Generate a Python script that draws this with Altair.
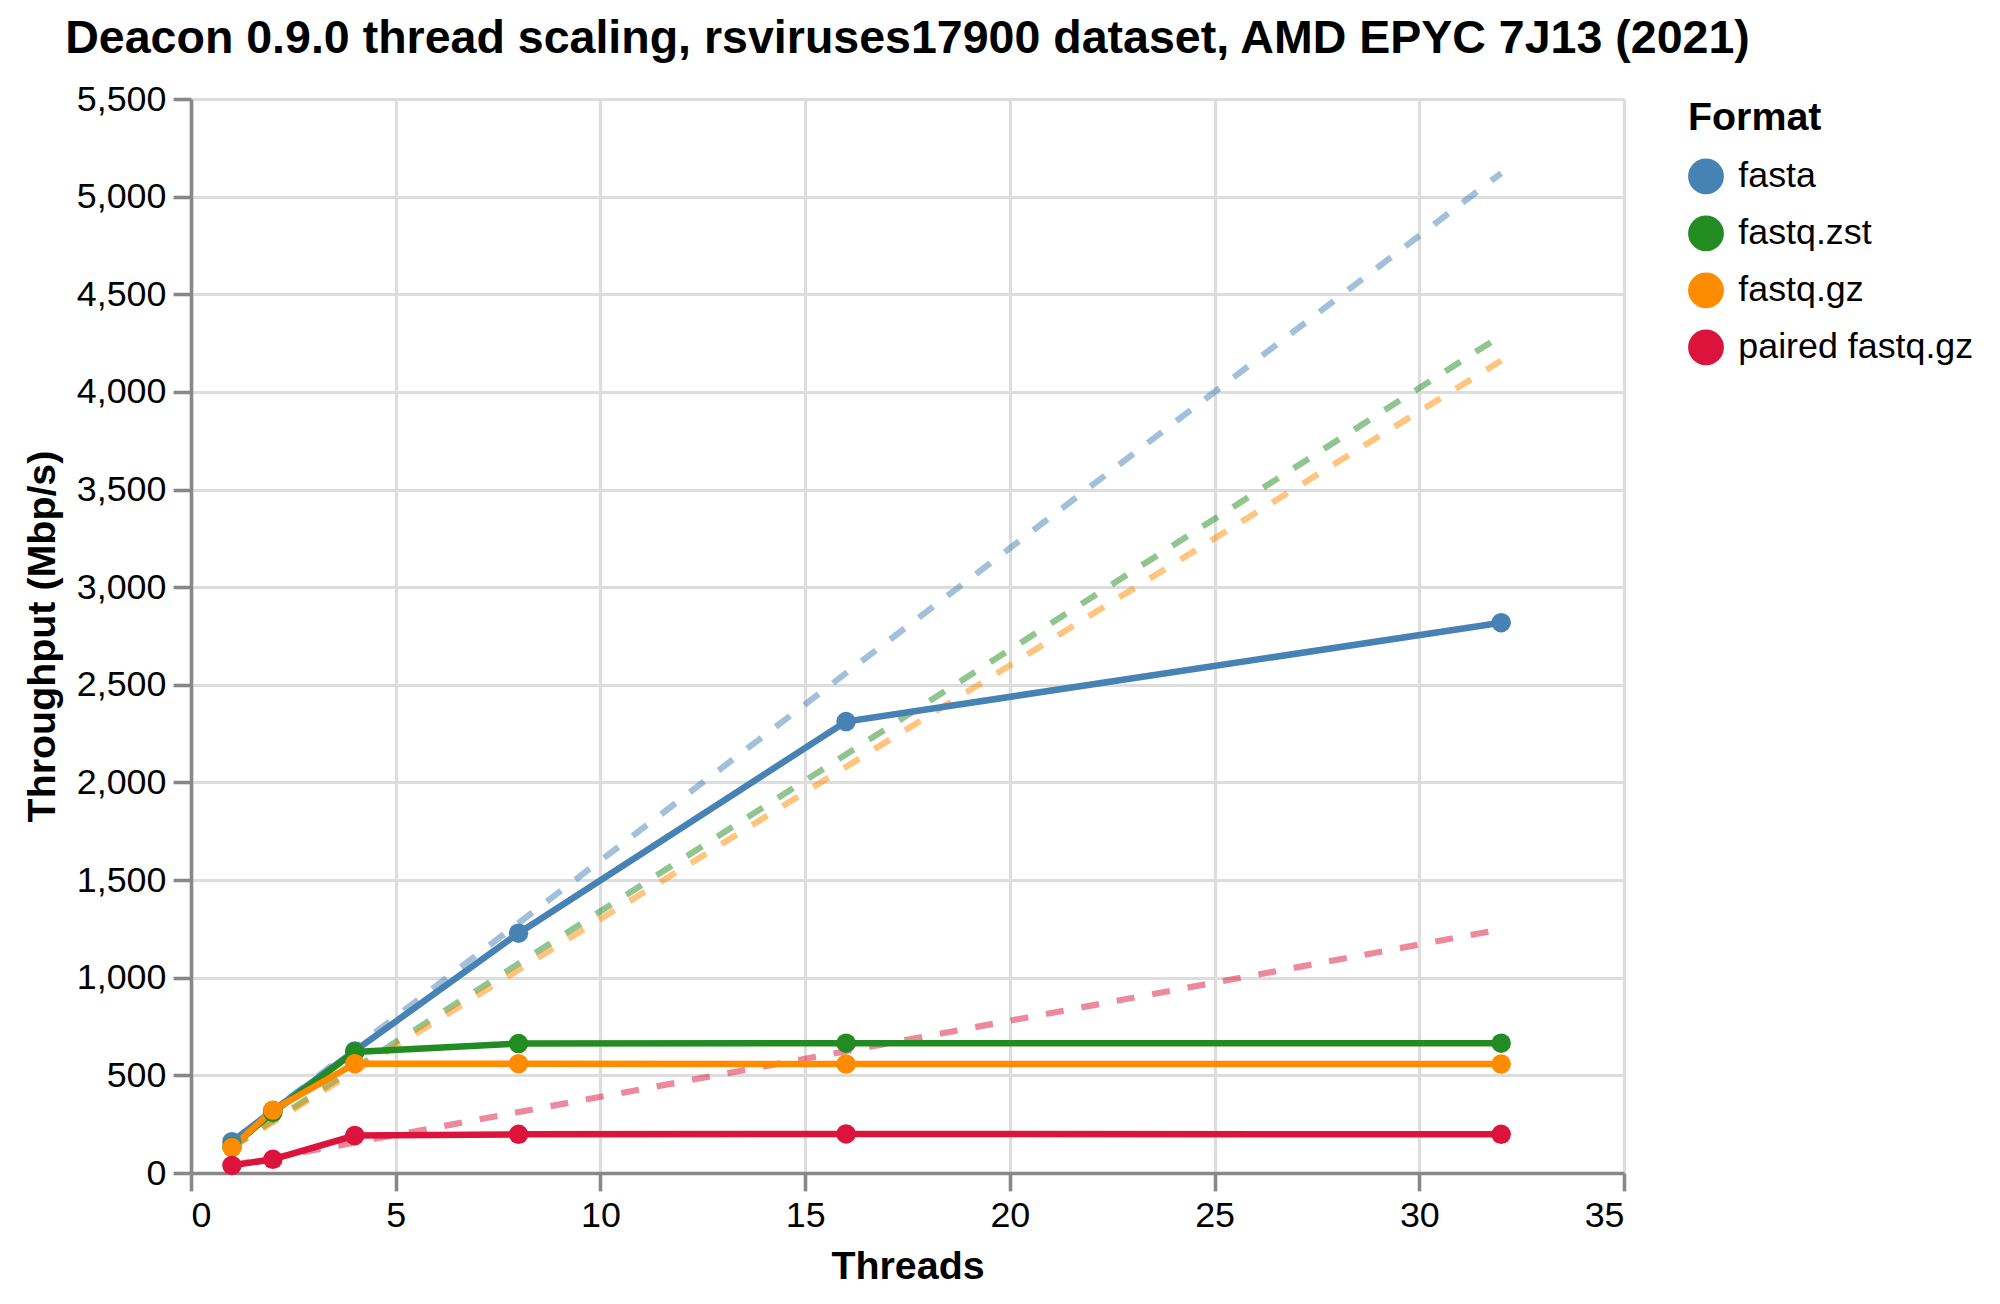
import altair as alt
import pandas as pd

S = 3.58  # scale of the reference rendering

threads = [1, 2, 4, 8, 16, 32]
formats = ["fasta", "fastq.zst", "fastq.gz", "paired fastq.gz"]
colors = ["#4682b4", "#228b22", "#ff8c00", "#dc143c"]

fasta = [160, 320, 625, 1228, 2312, 2818]
fastq_zst = [134, 310, 620, 663, 665, 665]
fastq_gz = [130, 322, 560, 560, 558, 558]
paired_fastq_gz = [39, 70, 192, 198, 200, 198]

series = [fasta, fastq_zst, fastq_gz, paired_fastq_gz]

rows = []
for fmt, vals in zip(formats, series):
    base = vals[0]
    for t, v in zip(threads, vals):
        rows.append({"Threads": t, "Throughput": v, "Ideal": base * t, "Format": fmt})
df = pd.DataFrame(rows)

x = alt.X("Threads:Q", title="Threads",
          scale=alt.Scale(domain=[0, 35], nice=False),
          axis=alt.Axis(values=list(range(0, 36, 5))))
y_vals = list(range(0, 5501, 500))
color_scale = alt.Scale(domain=formats, range=colors)
legend = alt.Legend(title="Format", symbolType="circle", labelLimit=600)

base = alt.Chart(df)

ideal = base.mark_line(strokeDash=[18, 18], strokeWidth=6.2, opacity=0.5).encode(
    x=x,
    y=alt.Y("Ideal:Q", title="Throughput (Mbp/s)",
            scale=alt.Scale(domain=[0, 5500], nice=False),
            axis=alt.Axis(values=y_vals)),
    color=alt.Color("Format:N", scale=color_scale, legend=legend),
    detail="Format:N",
)

lines = base.mark_line(strokeWidth=6.5).encode(
    x=x,
    y=alt.Y("Throughput:Q"),
    color=alt.Color("Format:N", scale=color_scale, legend=legend),
)

points = base.mark_point(filled=True, opacity=1, size=380).encode(
    x=x,
    y=alt.Y("Throughput:Q"),
    color=alt.Color("Format:N", scale=color_scale, legend=legend),
)

chart = alt.layer(ideal, lines, points).properties(
    width=1433,
    height=1074,
    padding={"left": 14, "top": 8, "right": 18, "bottom": 18},
    title=alt.Title(
        "Deacon 0.9.0 thread scaling, rsviruses17900 dataset, AMD EPYC 7J13 (2021)",
        fontSize=13 * S, offset=18,
    ),
).configure_axis(
    labelFontSize=10 * S,
    titleFontSize=11 * S,
    tickSize=5 * S,
    tickWidth=1 * S,
    domainWidth=1 * S,
    gridWidth=3.2,
    labelPadding=2 * S,
    titlePadding=4 * S,
    domainColor="#888",
    tickColor="#888",
    gridColor="#ddd",
).configure_legend(
    titleFontSize=11 * S,
    labelFontSize=10 * S,
    symbolSize=100 * S * S,
    symbolOpacity=1,
    symbolStrokeWidth=0,
    rowPadding=21,
    titlePadding=20,
    labelOffset=4 * S,
    offset=18 * S,
    columnPadding=10 * S,
    padding=0,
).configure_view(stroke=None)

chart.save("out.html", embed_options={"renderer": "svg", "actions": False})
